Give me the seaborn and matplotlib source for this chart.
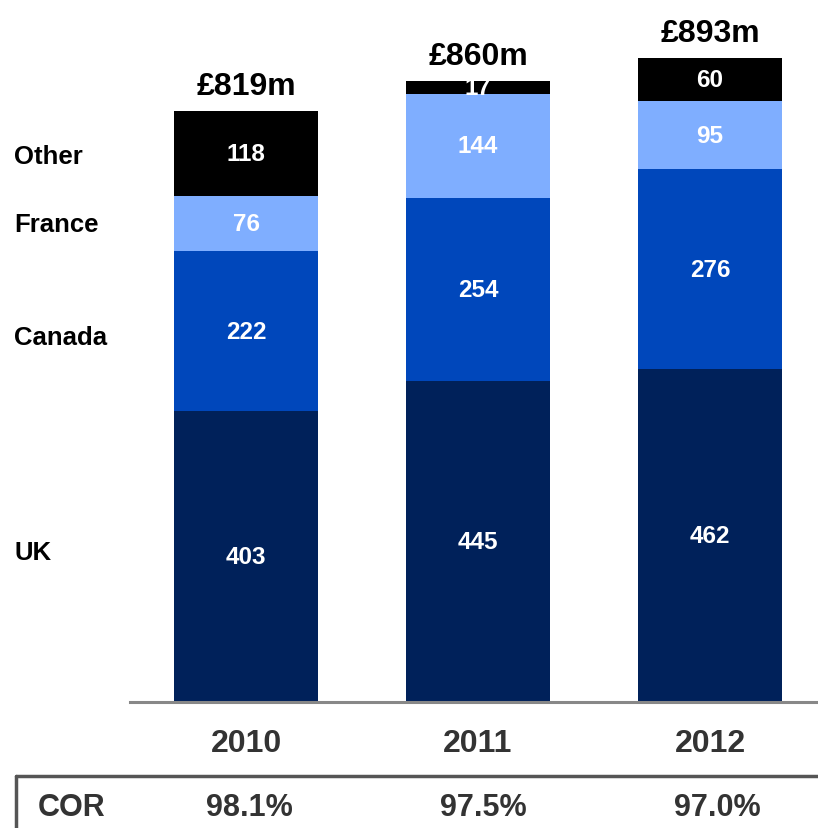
import numpy as np
import pandas as pd
import matplotlib
matplotlib.use("Agg")
import matplotlib.pyplot as plt
import matplotlib.transforms as mtransforms
import seaborn as sns

# data
years = ["2010", "2011", "2012"]
uk = [403, 445, 462]
canada = [222, 254, 276]
france = [76, 144, 95]
other = [118, 17, 60]
totals = ["£819m", "£860m", "£893m"]
cor = ["98.1%", "97.5%", "97.0%"]

segments = ["UK", "Canada", "France", "Other"]
colors = {"UK": "#00215A", "Canada": "#0047BB", "France": "#7FAEFF", "Other": "#000000"}

df = pd.DataFrame({"year": years, "UK": uk, "Canada": canada, "France": france, "Other": other})
cum = df[segments].cumsum(axis=1)

sns.set_style("white")
plt.rcParams["font.family"] = ["Liberation Sans", "DejaVu Sans"]

fig = plt.figure(figsize=(8.18, 8.29), dpi=100)
W, H = 818, 829
ax = fig.add_axes([130 / W, (H - 703) / H, (818 - 130) / W, 703 / H])

# stacked bars: draw the tallest cumulative first
bw = 144 / 232
for seg in segments[::-1]:
    sns.barplot(x=df["year"], y=cum[seg], color=colors[seg], width=bw,
                saturation=1, ax=ax, linewidth=0)

ax.set_xlim(-0.5, 2.4655)
ax.set_ylim(0, 703 / 0.7216)

# segment labels
for i in range(len(years)):
    bottom = 0
    for seg in segments:
        v = df[seg][i]
        ax.text(i, bottom + v / 2, str(v), ha="center", va="center",
                color="white", fontsize=17.5, fontweight="bold")
        bottom += v
    ax.text(i, bottom + 14, totals[i], ha="center", va="bottom",
            color="black", fontsize=23, fontweight="bold")

# category names on the left, aligned to 2010 segments
trans = mtransforms.blended_transform_factory(fig.transFigure, ax.transData)
label_y = {"UK": 208, "Canada": 506, "France": 662, "Other": 757}
for seg in segments:
    ax.text(14 / W, label_y[seg], seg, transform=trans, ha="left", va="center",
            fontsize=18.5, fontweight="bold", color="black")

ax.set_xlabel("")
ax.set_ylabel("")
ax.set_yticks([])
ax.tick_params(axis="x", length=0, pad=19)
ax.set_xticks(range(3))
ax.set_xticklabels(years, fontsize=23, fontweight="bold", color="#333333")
for s in ["top", "right", "left"]:
    ax.spines[s].set_visible(False)
ax.spines["bottom"].set_color("#888888")
ax.spines["bottom"].set_linewidth(2.2)

# COR row
fig.add_artist(plt.Line2D([16 / W, 1], [(H - 777) / H] * 2, color="#555555",
                          lw=2.5, transform=fig.transFigure))
fig.add_artist(plt.Line2D([16 / W, 16 / W], [(H - 777) / H, 0], color="#555555",
                          lw=2.5, transform=fig.transFigure))
fig.text(72 / W, (H - 808) / H, "COR", ha="center", va="center",
         fontsize=22, fontweight="bold", color="#333333")
for i, c in enumerate(cor):
    fig.text((249 + 234 * i) / W, (H - 808) / H, c, ha="center", va="center",
             fontsize=22, fontweight="bold", color="#333333")

fig.savefig("out.png", dpi=100)
